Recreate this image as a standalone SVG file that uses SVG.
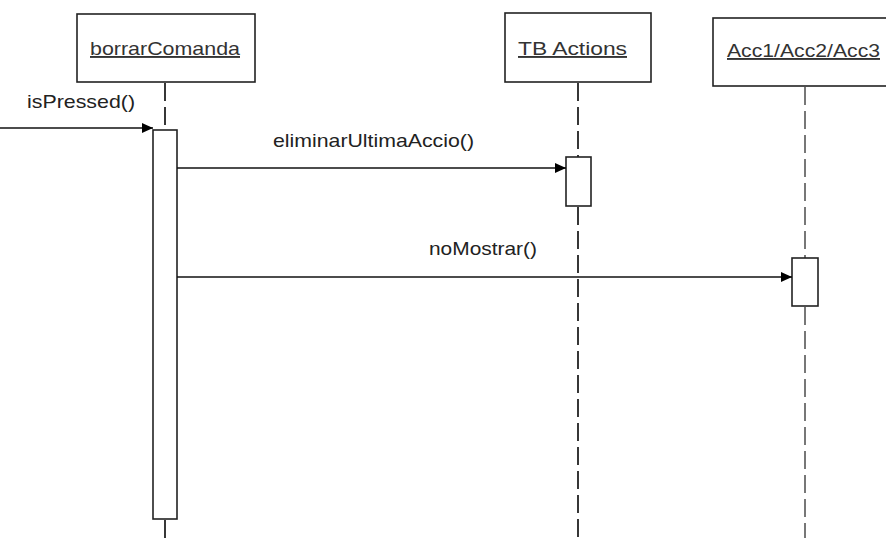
<svg xmlns="http://www.w3.org/2000/svg" width="886" height="538" viewBox="0 0 886 538">
  <defs>
    <marker id="arrow" markerWidth="12" markerHeight="12" refX="11" refY="5" orient="auto" markerUnits="userSpaceOnUse">
      <path d="M0,0 L11,5 L0,10 Z" fill="#000"/>
    </marker>
    <style>
      .box { fill: #fff; stroke: #222; stroke-width: 1.6; }
      .act { fill: #fff; stroke: #222; stroke-width: 1.6; }
      .life { stroke: #222; stroke-width: 1.8; stroke-dasharray: 18 6; fill: none; }
      .life-gray { stroke: #777; stroke-width: 2; stroke-dasharray: 18 6; fill: none; }
      .lbl { font-family: "Liberation Sans", Arial, sans-serif; font-size: 19px; fill: #333; text-decoration: underline; }
      .msgtxt { font-family: "Liberation Sans", Arial, sans-serif; font-size: 19px; fill: #222; }
      .msg { stroke: #111; stroke-width: 1.6; fill: none; marker-end: url(#arrow); }
    </style>
  </defs>
  <rect width="886" height="538" fill="#fff"/>

  <g id="lifelines">
    <line class="life" x1="165" y1="83" x2="165" y2="130"/>
    <line class="life" x1="165" y1="520" x2="165" y2="538"/>
    <line class="life" x1="578" y1="83" x2="578" y2="157"/>
    <line class="life" x1="578" y1="207" x2="578" y2="538"/>
    <line class="life-gray" x1="805" y1="87" x2="805" y2="258"/>
    <line class="life-gray" x1="805" y1="307" x2="805" y2="538"/>
  </g>

  <g id="borrarComanda">
    <rect class="box" x="77" y="14" width="178" height="68"/>
    <text class="lbl" x="90" y="55" textLength="150" lengthAdjust="spacingAndGlyphs">borrarComanda</text>
    <rect class="act" x="153" y="130" width="24" height="389"/>
  </g>

  <g id="TBActions">
    <rect class="box" x="505" y="13" width="146" height="69"/>
    <text class="lbl" x="518" y="55" textLength="109" lengthAdjust="spacingAndGlyphs">TB Actions</text>
    <rect class="act" x="566" y="157" width="25" height="49"/>
  </g>

  <g id="Acc">
    <rect class="box" x="713" y="18" width="180" height="68"/>
    <text class="lbl" x="727" y="57" textLength="153" lengthAdjust="spacingAndGlyphs">Acc1/Acc2/Acc3</text>
    <rect class="act" x="792" y="258" width="26" height="48"/>
  </g>

  <g id="connectors">
    <line class="msg" x1="0" y1="128" x2="153" y2="128"/>
    <text class="msgtxt" x="27" y="108" textLength="108" lengthAdjust="spacingAndGlyphs">isPressed()</text>
    <line class="msg" x1="177" y1="168" x2="566" y2="168"/>
    <text class="msgtxt" x="273" y="147" textLength="201" lengthAdjust="spacingAndGlyphs">eliminarUltimaAccio()</text>
    <line class="msg" x1="177" y1="277" x2="792" y2="277"/>
    <text class="msgtxt" x="429" y="255" textLength="108" lengthAdjust="spacingAndGlyphs">noMostrar()</text>
  </g>
</svg>
